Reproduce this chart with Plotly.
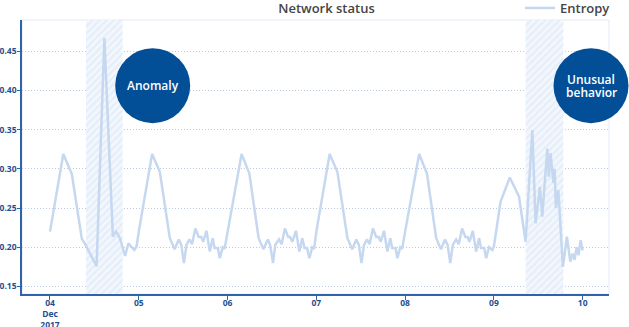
import plotly.graph_objects as go

# ---------------- data ----------------
times = [
    # Dec 04
    "2017-12-04 00:00", "2017-12-04 03:36", "2017-12-04 05:54", "2017-12-04 08:36",
    "2017-12-04 09:30", "2017-12-04 12:36", "2017-12-04 14:42", "2017-12-04 17:00",
    "2017-12-04 17:54", "2017-12-04 18:54", "2017-12-04 20:18", "2017-12-04 21:12",
    "2017-12-04 22:48", "2017-12-04 23:24",
    # Dec 05
    "2017-12-05 00:00", "2017-12-05 03:36", "2017-12-05 05:42", "2017-12-05 08:24",
    "2017-12-05 09:42", "2017-12-05 10:48", "2017-12-05 11:30", "2017-12-05 12:12",
    "2017-12-05 12:54", "2017-12-05 13:42", "2017-12-05 14:24", "2017-12-05 15:18",
    "2017-12-05 16:12", "2017-12-05 16:54", "2017-12-05 17:24", "2017-12-05 18:18",
    "2017-12-05 19:12", "2017-12-05 20:00", "2017-12-05 20:30", "2017-12-05 21:24",
    "2017-12-05 21:54", "2017-12-05 22:42", "2017-12-05 23:12",
    # Dec 06
    "2017-12-06 00:00", "2017-12-06 03:48", "2017-12-06 05:54", "2017-12-06 08:24",
    "2017-12-06 09:42", "2017-12-06 10:54", "2017-12-06 11:30", "2017-12-06 12:18",
    "2017-12-06 12:54", "2017-12-06 13:54", "2017-12-06 14:36", "2017-12-06 15:30",
    "2017-12-06 16:24", "2017-12-06 16:54", "2017-12-06 17:30", "2017-12-06 18:30",
    "2017-12-06 19:24", "2017-12-06 20:12", "2017-12-06 20:48", "2017-12-06 21:30",
    "2017-12-06 22:06", "2017-12-06 22:54", "2017-12-06 23:24",
    # Dec 07
    "2017-12-07 00:00", "2017-12-07 03:36", "2017-12-07 05:42", "2017-12-07 08:24",
    "2017-12-07 09:42", "2017-12-07 10:48", "2017-12-07 11:30", "2017-12-07 12:12",
    "2017-12-07 12:54", "2017-12-07 13:42", "2017-12-07 14:24", "2017-12-07 15:18",
    "2017-12-07 16:12", "2017-12-07 16:54", "2017-12-07 17:24", "2017-12-07 18:18",
    "2017-12-07 19:12", "2017-12-07 20:00", "2017-12-07 20:30", "2017-12-07 21:24",
    "2017-12-07 21:54", "2017-12-07 22:42", "2017-12-07 23:12",
    # Dec 08
    "2017-12-08 00:00", "2017-12-08 03:48", "2017-12-08 05:54", "2017-12-08 08:24",
    "2017-12-08 09:42", "2017-12-08 10:48", "2017-12-08 11:30", "2017-12-08 12:12",
    "2017-12-08 12:54", "2017-12-08 13:48", "2017-12-08 14:30", "2017-12-08 15:24",
    "2017-12-08 16:18", "2017-12-08 16:54", "2017-12-08 17:24", "2017-12-08 18:18",
    "2017-12-08 19:12", "2017-12-08 20:00", "2017-12-08 20:30", "2017-12-08 21:24",
    "2017-12-08 21:54", "2017-12-08 22:42", "2017-12-08 23:36",
    # Dec 09
    "2017-12-09 00:00", "2017-12-09 01:48", "2017-12-09 04:18", "2017-12-09 06:48",
    "2017-12-09 08:34", "2017-12-09 10:24", "2017-12-09 11:16", "2017-12-09 12:26",
    "2017-12-09 13:05", "2017-12-09 14:26", "2017-12-09 14:52", "2017-12-09 15:20",
    "2017-12-09 16:04", "2017-12-09 16:25", "2017-12-09 16:46", "2017-12-09 17:25",
    "2017-12-09 17:46", "2017-12-09 18:39", "2017-12-09 19:44", "2017-12-09 20:39",
    "2017-12-09 21:16", "2017-12-09 21:49", "2017-12-09 22:22", "2017-12-09 22:54",
    "2017-12-09 23:26", "2017-12-10 00:00",
]

entropy = [
    # Dec 04
    0.220, 0.319, 0.2935, 0.211,
    0.204, 0.176, 0.467, 0.2135,
    0.220, 0.2115, 0.189, 0.205,
    0.1965, 0.201,
    # Dec 05
    0.220, 0.319, 0.296, 0.2115,
    0.1975, 0.210, 0.203, 0.180,
    0.203, 0.210, 0.204, 0.224,
    0.213, 0.213, 0.207, 0.221,
    0.1945, 0.2115, 0.199, 0.199,
    0.186, 0.200, 0.198,
    # Dec 06
    0.220, 0.319, 0.294, 0.2115,
    0.1975, 0.210, 0.203, 0.180,
    0.203, 0.210, 0.204, 0.224,
    0.213, 0.213, 0.207, 0.221,
    0.1945, 0.2115, 0.199, 0.199,
    0.186, 0.200, 0.198,
    # Dec 07
    0.220, 0.319, 0.296, 0.2115,
    0.1975, 0.210, 0.203, 0.180,
    0.203, 0.210, 0.204, 0.224,
    0.213, 0.213, 0.207, 0.221,
    0.1945, 0.2115, 0.199, 0.199,
    0.186, 0.200, 0.198,
    # Dec 08
    0.220, 0.319, 0.294, 0.2115,
    0.1975, 0.210, 0.203, 0.180,
    0.203, 0.210, 0.204, 0.224,
    0.213, 0.213, 0.207, 0.221,
    0.1945, 0.2115, 0.199, 0.199,
    0.186, 0.200, 0.1965,
    # Dec 09
    0.201, 0.258, 0.289, 0.2645,
    0.207, 0.3496, 0.2306, 0.277,
    0.239, 0.326, 0.290, 0.320,
    0.282, 0.300, 0.250, 0.273,
    0.240, 0.175, 0.2135, 0.1816,
    0.192, 0.184, 0.200, 0.190,
    0.209, 0.196,
]

anomaly_window = ["2017-12-04 09:44", "2017-12-04 19:39"]
unusual_window = ["2017-12-09 08:34", "2017-12-09 18:46"]

x_range = ["2017-12-03 16:26", "2017-12-10 07:07"]
y_range = [0.1404, 0.4899]

x_tickvals = ["2017-12-04", "2017-12-05", "2017-12-06", "2017-12-07",
              "2017-12-08", "2017-12-09", "2017-12-10"]
x_ticktext = ["04<br>Dec<br>2017", "05", "06", "07", "08", "09", "10"]
y_tickvals = [0.15, 0.20, 0.25, 0.30, 0.35, 0.40, 0.45]
y_ticktext = ["0.15", "0.20", "0.25", "0.30", "0.35", "0.40", "0.45"]

# ---------------- styling ----------------
FONT = "Open Sans"
AXIS_BLUE = "#2f63ad"
TICK_BLUE = "#1d4f91"
LINE_BLUE = "#c5d8f0"
CIRCLE_BLUE = "#034f97"

W, H = 629, 327
ML, MR, MT, MB = 22, 20, 20, 33
PW, PH = W - ML - MR, H - MT - MB

fig = go.Figure()


def hatch(window):
    x0, x1 = window
    return go.Scatter(
        x=[x0, x1, x1, x0, x0],
        y=[y_range[0], y_range[0], y_range[1], y_range[1], y_range[0]],
        mode="lines", fill="toself", line=dict(width=0),
        fillcolor="#f4f8fd",
        fillpattern=dict(shape="/", size=5, solidity=0.5,
                         fgcolor="#d6e4f6", bgcolor="#f4f8fd"),
        hoverinfo="skip", showlegend=False,
    )


fig.add_trace(hatch(anomaly_window))
fig.add_trace(hatch(unusual_window))

fig.add_trace(go.Scatter(
    x=times, y=entropy, mode="lines", name="Entropy",
    line=dict(color=LINE_BLUE, width=2.5),
))

# light frame on top/right
fig.add_shape(type="rect", xref="paper", yref="paper", x0=0, x1=1, y0=0, y1=1,
              line=dict(color="#e1eaf6", width=1), layer="below")


def px_x(px):
    return (px - ML) / PW


def px_y(py):
    return 1 - (py - MT) / PH


# circles (centres in pixels of the page)
R = 37.5
circles = [(152.7, 85.7), (591.0, 85.7)]
for cx, cy in circles:
    fig.add_shape(type="circle", xref="paper", yref="paper",
                  x0=px_x(cx - R), x1=px_x(cx + R),
                  y0=px_y(cy + R), y1=px_y(cy - R),
                  fillcolor=CIRCLE_BLUE, line=dict(width=0), layer="above")

ann_font = dict(family=FONT, size=12, color="white", weight=600)
for txt, cx, cy in [("Anomaly", 152.7, 85.7), ("Unusual", 591.0, 79.5),
                    ("behavior", 591.0, 92.0)]:
    fig.add_annotation(x=px_x(cx), y=px_y(cy), xref="paper", yref="paper",
                       xanchor="center", yanchor="middle",
                       text=txt, showarrow=False, font=ann_font)

fig.update_layout(
    width=W, height=H,
    margin=dict(l=ML, r=MR, t=MT, b=MB, autoexpand=False),
    paper_bgcolor="white", plot_bgcolor="white",
    font=dict(family=FONT),
    title=dict(text="Network status", x=326.5 / W, xanchor="center",
               y=1 - 8 / H, yanchor="middle",
               font=dict(family=FONT, size=13, color="#444444", weight=600)),
    showlegend=True,
    legend=dict(orientation="h", x=px_x(615), xanchor="right", y=px_y(8),
                yanchor="middle", bgcolor="rgba(0,0,0,0)",
                font=dict(family=FONT, size=13, color="#444444", weight=600)),
)

fig.update_xaxes(
    type="date", range=x_range, automargin=False,
    tickvals=x_tickvals, ticktext=x_ticktext,
    showgrid=False, zeroline=False,
    showline=True, linecolor=AXIS_BLUE, linewidth=1.5,
    ticks="outside", ticklen=4, tickcolor=AXIS_BLUE,
    ticklabelstandoff=-4,
    tickfont=dict(family=FONT, size=8.5, color=TICK_BLUE, weight=700),
)
fig.update_yaxes(
    range=y_range, tickvals=y_tickvals, ticktext=y_ticktext, automargin=False,
    showgrid=True, gridcolor="#b9c9de", griddash="1px,2px", gridwidth=1,
    zeroline=False,
    showline=True, linecolor=AXIS_BLUE, linewidth=1.5,
    ticks="outside", ticklen=3, tickcolor=AXIS_BLUE,
    ticklabelstandoff=-1,
    tickfont=dict(family=FONT, size=8.5, color=TICK_BLUE, weight=700),
)

fig.write_html("out.html")
